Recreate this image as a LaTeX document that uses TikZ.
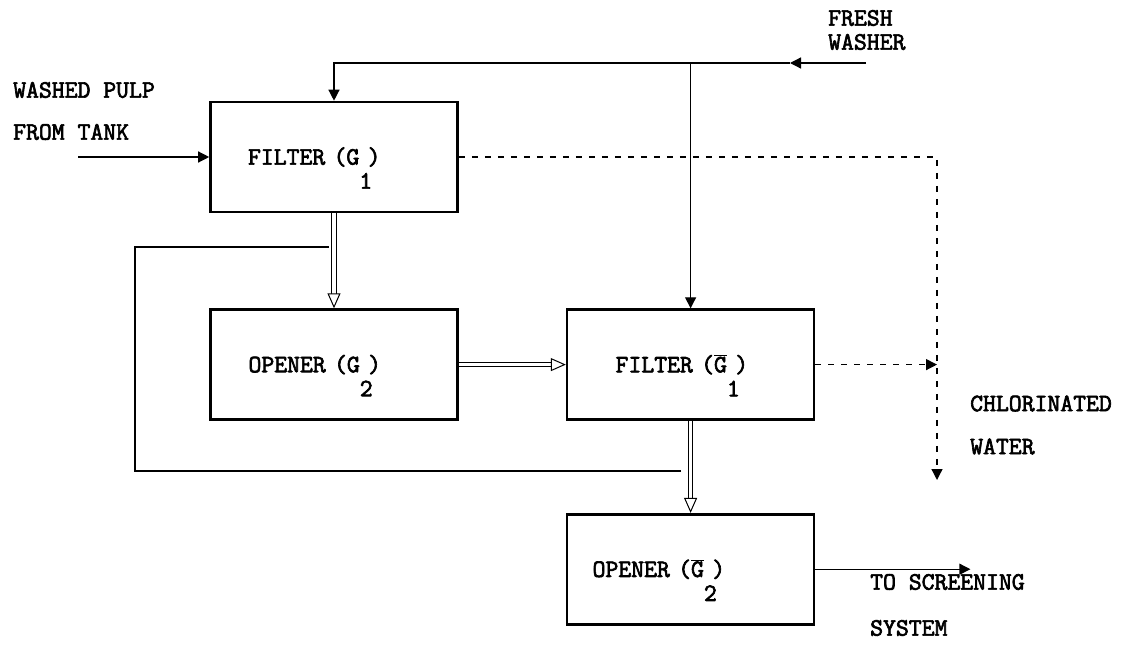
\documentclass[tikz,border=0pt]{standalone}
\usepackage{fontspec}
\newfontfamily\plotfont[FakeBold=2.6]{Latin Modern Mono}
\usetikzlibrary{arrows.meta, positioning}
\newcommand{\dn}[1]{\rlap{\raisebox{-24pt}[0pt][0pt]{#1}}\ }
\newcommand{\gbar}{\ensuremath{\overline{\mbox{G}}}}
\tikzset{
  pbox/.style={draw, line width=2.6pt, minimum width=247pt, minimum height=110pt,
               inner sep=0pt, align=left, text width=#1,
               font=\plotfont\fontsize{25}{30}\selectfont},
  note/.style={anchor=west, align=left, inner sep=0pt,
               font=\plotfont\fontsize{25}{30}\selectfont},
  pline/.style={line width=1.3pt},
  flow/.style={line width=1.3pt, -{Triangle[length=11pt, width=11pt]}},
  drain/.style={line width=1.3pt, dash pattern=on 6pt off 7pt,
                -{Triangle[length=11pt, width=11pt]}},
  pipe/.style={draw=none,
               postaction={draw, double, double distance=3.5pt, line width=1pt, shorten >=12pt},
               postaction={draw=white, line width=0.4pt,
                 -{Triangle[length=15pt, width=13pt, line width=1pt, color=black, fill=white]}}},
}
\begin{document}
\begin{tikzpicture}[x=1pt, y=-1pt]
  \useasboundingbox (0,0) rectangle (1122,645);
  % process units
  \node[pbox=172pt] (g1) at (334,157) {FILTER (G\dn{1})};
  \node[pbox=171pt, below=95pt of g1] (g2) {OPENER (G\dn{2})};
  \node[pbox=150pt, right=107pt of g2] (g1b) {FILTER (\gbar\dn{1})};
  \node[pbox=196pt, below=92pt of g1b] (g2b) {OPENER (\gbar\dn{2})};
  % stream labels
  \node[note] (pulp) at (13,111) {WASHED PULP\\[12pt]FROM TANK};
  \node[note] (fresh) at (828,30) {FRESH\\[-6pt]WASHER};
  \node[note] (chlor) at (970,425) {CHLORINATED\\[13pt]WATER};
  \node[note] (screen) at (870,605) {TO SCREENING\\[16pt]SYSTEM};
  % free ends
  \coordinate (pulpin) at (78,157);
  \coordinate (fwin) at (866,63);
  \coordinate (fwtip) at (790,63);
  \coordinate (fwjoin) at (g1b.north |- fwin);
  \coordinate (chlout) at (937,480);
  \coordinate (scrout) at ([xshift=155pt]g2b.east);
  \coordinate (retin) at (681,471);
  \coordinate (retout) at (329,247);
  % feed and wash water
  \draw[flow] (pulpin) -- (g1.west);
  \draw[flow] (fwin) -- (fwtip);
  \draw[flow] (fwtip) -| (g1.north);
  \draw[flow] (fwjoin) -- (g1b.north);
  % filtrate
  \draw[drain] (g1.east) -| (chlout);
  \draw[drain] (g1b.east) -- (g1b.east -| chlout);
  % pulp path
  \draw[pipe] (g1.south) -- (g2.north);
  \draw[pipe] (g2.east) -- (g2.east -| g1b.west);
  \draw[pipe] (g1b.south) -- (g2b.north);
  \draw[pline] (retin) -- (135,471) |- (retout);
  \draw[flow] (g2b.east) -- (scrout);
\end{tikzpicture}
\end{document}
